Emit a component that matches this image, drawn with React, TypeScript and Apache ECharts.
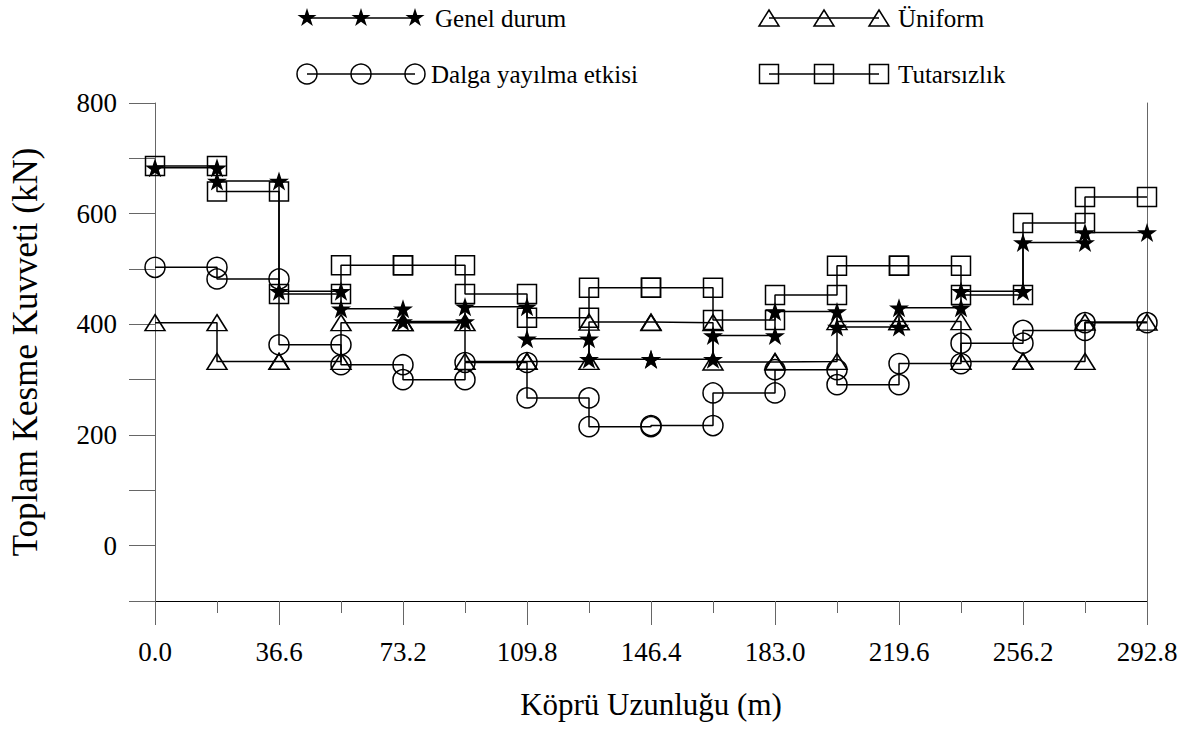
import { useEffect, useRef, useState } from 'react';
import * as echarts from 'echarts';

// Bridge stations (m): segment boundaries
const stations = [0, 18.3, 36.6, 54.9, 73.2, 91.5, 109.8, 128.1, 146.4, 164.7, 183.0, 201.3, 219.6, 237.9, 256.2, 274.5, 292.8];
const seriesNames = ['Genel durum', 'Üniform', 'Dalga yayılma etkisi', 'Tutarsızlık'];
// constant value on each of the 16 segments (kN)
const genelDurum = [683, 659, 460, 428, 405, 432, 374, 337, 337, 380, 423, 395, 430, 460, 548, 566];
const uniform = [403, 333, 333, 403, 403, 333, 333, 404, 403, 332, 333, 405, 405, 333, 333, 404];
const dalga = [503, 482, 363, 327, 300, 331, 267, 215, 217, 276, 318, 291, 329, 366, 389, 403];
const tutarsizlik = [686, 640, 455, 507, 507, 455, 412, 466, 466, 408, 453, 506, 506, 453, 583, 630];
const yLabelValues = [0, 200, 400, 600, 800];
const xTitle = 'Köprü Uzunluğu (m)';
const yTitle = 'Toplam Kesme Kuvveti (kN)';

const FONT = 'Liberation Serif';
const STAR = 'path://M0,-10 L2.245,-3.09 L9.511,-3.09 L3.633,1.18 L5.878,8.09 L0,3.82 L-5.878,8.09 L-3.633,1.18 L-9.511,-3.09 L-2.245,-3.09 Z';

function steps(vals: number[]) {
  const pts: number[][] = [];
  vals.forEach((v, i) => {
    pts.push([stations[i], v]);
    pts.push([stations[i + 1], v]);
  });
  return pts;
}

function starPoints(cx: number, cy: number, R: number) {
  const pts: number[][] = [];
  const r = R * 0.382;
  for (let k = 0; k < 10; k++) {
    const ang = -Math.PI / 2 + (k * Math.PI) / 5;
    const rad = k % 2 === 0 ? R : r;
    pts.push([cx + rad * Math.cos(ang), cy + rad * Math.sin(ang)]);
  }
  return pts;
}

function legendMarker(kind: string, cx: number, cy: number) {
  const stroke = { stroke: '#000', lineWidth: 1.5, fill: 'none' };
  if (kind === 'star') return { type: 'polygon', shape: { points: starPoints(cx, cy, 10) }, style: { fill: '#000' } };
  if (kind === 'triangle') return { type: 'polygon', shape: { points: [[cx, cy - 8], [cx + 10, cy + 8], [cx - 10, cy + 8]] }, style: stroke };
  if (kind === 'circle') return { type: 'circle', shape: { cx, cy, r: 10 }, style: stroke };
  return { type: 'rect', shape: { x: cx - 9.5, y: cy - 9.5, width: 19, height: 19 }, style: stroke };
}

const legendLayout = [
  { kind: 'star', xs: [307, 361, 415], y: 18, tx: 435 },
  { kind: 'triangle', xs: [769, 824, 879], y: 18, tx: 898 },
  { kind: 'circle', xs: [307, 361, 415], y: 74, tx: 431 },
  { kind: 'rect', xs: [769, 824, 879], y: 74, tx: 898 },
];

export default function App() {
  const ref = useRef<HTMLDivElement>(null);
  const [fontsChecked, setFontsChecked] = useState(0);
  useEffect(() => {
    if (!ref.current) return;
    const chart = echarts.init(ref.current, null, { renderer: 'svg' });
    const graphics: any[] = [];
    legendLayout.forEach((l, i) => {
      graphics.push({ type: 'line', shape: { x1: l.xs[0], y1: l.y, x2: l.xs[2], y2: l.y }, style: { stroke: '#000', lineWidth: 1.5 } });
      l.xs.forEach((x) => graphics.push(legendMarker(l.kind, x, l.y)));
      graphics.push({ type: 'text', x: l.tx, y: l.y, style: { text: seriesNames[i], fontSize: 25, fontFamily: FONT, fill: '#000', verticalAlign: 'middle' } });
    });

    const base = {
      type: 'line',
      showAllSymbol: true,
      lineStyle: { color: '#000', width: 1.5 },
      itemStyle: { color: 'rgba(0,0,0,0)', borderColor: '#000', borderWidth: 1.5 },
    };

    chart.setOption({
      animation: false,
      backgroundColor: '#fff',
      grid: { left: 155, right: 46, top: 103, bottom: 134 },
      xAxis: {
        type: 'value',
        min: 0,
        max: 292.8,
        interval: 36.6,
        name: xTitle,
        nameLocation: 'middle',
        nameGap: 88,
        nameTextStyle: { fontSize: 31, fontFamily: FONT, color: '#000' },
        axisLine: { show: true, onZero: false, lineStyle: { color: '#000', width: 1.2 } },
        axisTick: { show: true, inside: false, length: 24, lineStyle: { color: '#666', width: 1 } },
        minorTick: { show: true, splitNumber: 2, length: 12, lineStyle: { color: '#666', width: 1 } },
        splitLine: { show: false },
        axisLabel: { margin: 37, fontSize: 27, fontFamily: FONT, color: '#000', formatter: (v: number) => v.toFixed(1) },
      },
      yAxis: [
        {
          type: 'value',
          min: -100,
          max: 800,
          interval: 100,
          name: yTitle,
          nameLocation: 'middle',
          nameGap: 112,
          nameTextStyle: { fontSize: 35, fontFamily: FONT, color: '#000' },
          axisLine: { show: true, onZero: false, lineStyle: { color: '#666', width: 1 } },
          axisTick: { show: true, inside: false, length: 26, lineStyle: { color: '#666', width: 1 } },
          splitLine: { show: false },
          axisLabel: {
            margin: 38,
            fontSize: 27,
            fontFamily: FONT,
            color: '#000',
            formatter: (v: number) => (yLabelValues.includes(v) ? String(v) : ''),
          },
        },
        {
          type: 'value',
          position: 'right',
          min: -100,
          max: 800,
          axisLine: { show: true, onZero: false, lineStyle: { color: '#666', width: 1 } },
          axisTick: { show: false },
          axisLabel: { show: false },
          splitLine: { show: false },
        },
      ],
      graphic: graphics,
      series: [
        { ...base, name: seriesNames[0], data: steps(genelDurum), symbol: STAR, symbolKeepAspect: true, symbolSize: 20, itemStyle: { color: '#000', borderWidth: 0 }, z: 5 },
        { ...base, name: seriesNames[1], data: steps(uniform), symbol: 'triangle', symbolSize: [20, 16], z: 4 },
        { ...base, name: seriesNames[2], data: steps(dalga), symbol: 'circle', symbolSize: 20, z: 3 },
        { ...base, name: seriesNames[3], data: steps(tutarsizlik), symbol: 'rect', symbolSize: 19, z: 2 },
      ],
    });
    // force style resolution of the rendered texts
    const texts = Array.from(ref.current.querySelectorAll('text'));
    let n = 0;
    texts.forEach((t) => { n += getComputedStyle(t).fontFamily.length > 0 ? 1 : 0; });
    setFontsChecked(n);
    return () => chart.dispose();
  }, []);
  return (
    <div>
      <div ref={ref} style={{ position: 'fixed', left: 0, top: 0, width: 1193, height: 735 }} />
      <span data-checked={fontsChecked} style={{ position: 'fixed', left: 0, top: 0, width: 0, height: 0, overflow: 'hidden' }} />
    </div>
  );
}
